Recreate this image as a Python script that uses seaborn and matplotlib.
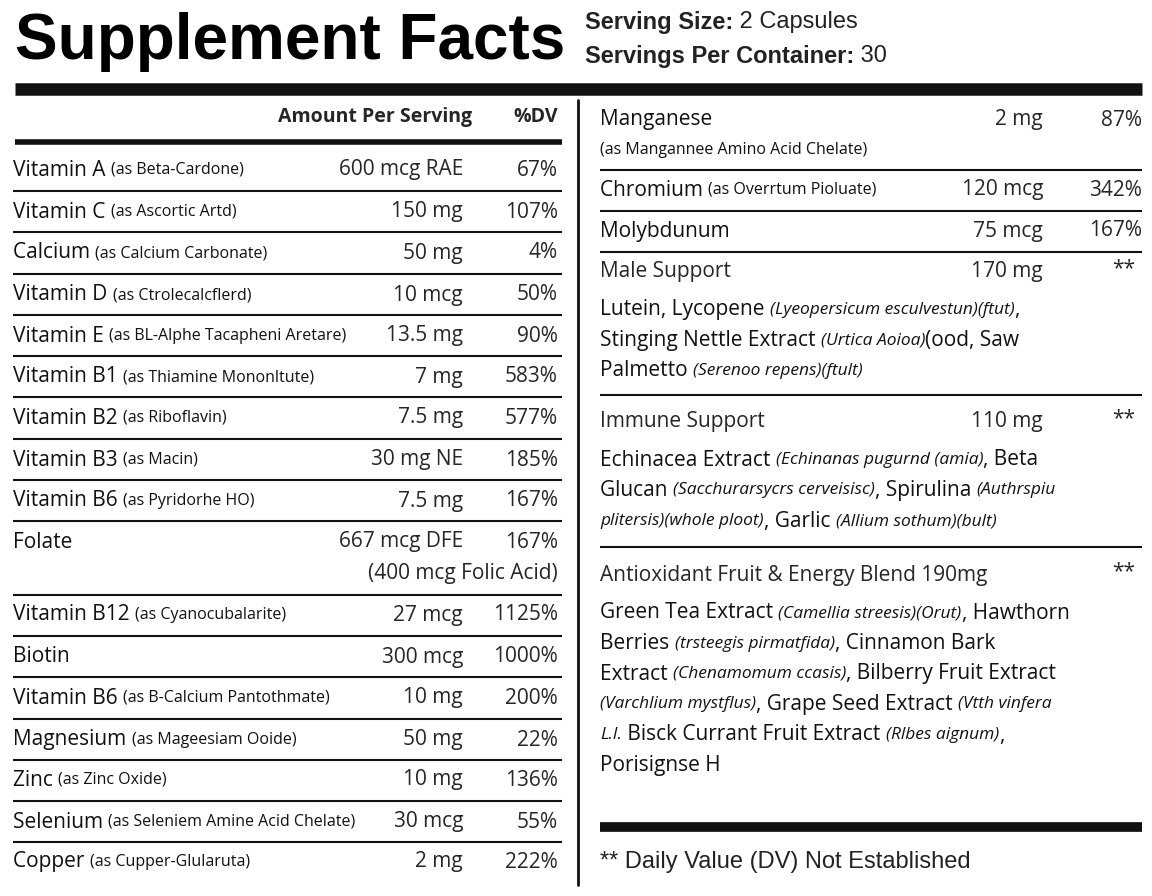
import matplotlib
matplotlib.use("Agg")
import matplotlib.pyplot as plt
import seaborn as sns

sns.set_theme(style="white")

title = "Supplement Facts"
serving_size = "2 Capsules"
servings_per = "30"

left_names = ["Vitamin A", "Vitamin C", "Calcium", "Vitamin D", "Vitamin E", "Vitamin B1", "Vitamin B2",
              "Vitamin B3", "Vitamin B6", "Folate", "Vitamin B12", "Biotin", "Vitamin B6", "Magnesium",
              "Zinc", "Selenium", "Copper"]
left_sources = ["(as Beta-Cardone)", "(as Ascortic Artd)", "(as Calcium Carbonate)", "(as Ctrolecalcflerd)",
                "(as BL-Alphe Tacapheni Aretare)", "(as Thiamine Mononltute)", "(as Riboflavin)", "(as Macin)",
                "(as Pyridorhe HO)", "", "(as Cyanocubalarite)", "", "(as B-Calcium Pantothmate)",
                "(as Mageesiam Ooide)", "(as Zinc Oxide)", "(as Seleniem Amine Acid Chelate)", "(as Cupper-Glularuta)"]
left_amounts = ["600 mcg RAE", "150 mg", "50 mg", "10 mcg", "13.5 mg", "7 mg", "7.5 mg", "30 mg NE", "7.5 mg",
                "667 mcg DFE", "27 mcg", "300 mcg", "10 mg", "50 mg", "10 mg", "30 mcg", "2 mg"]
left_dv = ["67%", "107%", "4%", "50%", "90%", "583%", "577%", "185%", "167%", "167%", "1125%", "1000%",
           "200%", "22%", "136%", "55%", "222%"]
folate_note = "(400 mcg Folic Acid)"

right_names = ["Manganese", "Chromium", "Molybdunum"]
right_sources = ["(as Mangannee Amino Acid Chelate)", "(as Overrtum Pioluate)", ""]
right_amounts = ["2 mg", "120 mcg", "75 mcg"]
right_dv = ["87%", "342%", "167%"]

blend_names = ["Male Support", "Immune Support", "Antioxidant Fruit & Energy Blend 190mg"]
blend_amounts = ["170 mg", "110 mg", ""]
blend_lines = [
    [[("Lutein, Lycopene ", "n"), ("(Lyeopersicum esculvestun)(ftut)", "i"), (",", "n")],
     [("Stinging Nettle Extract ", "n"), ("(Urtica Aoioa)", "i"), ("(ood, Saw", "n")],
     [("Palmetto ", "n"), ("(Serenoo repens)(ftult)", "i")]],
    [[("Echinacea Extract ", "n"), ("(Echinanas pugurnd (amia)", "i"), (", Beta", "n")],
     [("Glucan ", "n"), ("(Sacchurarsycrs cerveisisc)", "i"), (", Spirulina ", "n"), ("(Authrspiu", "i")],
     [("plitersis)(whole ploot)", "i"), (", Garlic ", "n"), ("(Allium sothum)(bult)", "i")]],
    [[("Green Tea Extract ", "n"), ("(Camellia streesis)(Orut)", "i"), (", Hawthorn", "n")],
     [("Berries ", "n"), ("(trsteegis pirmatfida)", "i"), (", Cinnamon Bark", "n")],
     [("Extract ", "n"), ("(Chenamomum ccasis)", "i"), (", Bilberry Fruit Extract", "n")],
     [("(Varchlium mystflus)", "i"), (", Grape Seed Extract ", "n"), ("(Vtth vinfera", "i")],
     [("L.I.", "i"), (" Bisck Currant Fruit Extract ", "n"), ("(Rlbes aignum)", "i"), (",", "n")],
     [("Porisignse H", "n")]],
]
footnote = "** Daily Value (DV) Not Established"

fig = plt.figure(figsize=(11.52, 8.96), dpi=100)
ax = fig.add_axes([0, 0, 1, 1])
ax.set_xlim(0, 1152); ax.set_ylim(896, 0); ax.axis("off")
r = fig.canvas.get_renderer()

BODY = ["Open Sans", "DejaVu Sans"]
COND = ["Open Sans", "DejaVu Sans"]
HEAD = ["Liberation Sans", "DejaVu Sans"]
fs = 15

def styles(k):
    if k == "n":
        return dict(family=BODY, fontsize=fs, weight="medium")
    if k == "i":
        return dict(family=COND, fontsize=12.5, style="italic")
    return dict(family=COND, fontsize=11.5)

def runs(x, y, parts):
    for txt, k in parts:
        t = ax.text(x, y, txt, va="center", ha="left", color="#111", **styles(k))
        x += t.get_window_extent(r).width

def hline(y, x0, x1, lw):
    ax.plot([x0, x1], [y, y], color="#111", lw=lw, solid_capstyle="butt")

ax.text(15, 42, title, family=HEAD, weight="heavy", fontsize=46, va="center", color="#000")
for y, lab, val in [(22, "Serving Size:", serving_size), (56, "Servings Per Container:", servings_per)]:
    t = ax.text(585, y, lab, family=HEAD, weight="bold", fontsize=17, va="center", color="#222")
    w = t.get_window_extent(r).width
    ax.text(585 + w, y, " " + val, family=HEAD, fontsize=17, va="center", color="#222")

hline(89, 15, 1142, 9)
ax.plot([578, 578], [100, 885], color="#111", lw=2)
ax.text(472, 117, "Amount Per Serving", family=BODY, weight="bold", fontsize=14, ha="right", va="center")
ax.text(558, 117, "%DV", family=BODY, weight="bold", fontsize=14, ha="right", va="center")
hline(142, 15, 562, 4)

ys = [170, 212, 253, 295, 336, 377, 418, 460, 501, 542, 615, 657, 698, 740, 780, 822, 862]
for i, (n, s, a, d) in enumerate(zip(left_names, left_sources, left_amounts, left_dv)):
    y = ys[i]
    runs(13, y, [(n + " ", "n"), (s, "c")])
    ax.text(463, y, a, family=BODY, fontsize=fs, ha="right", va="center")
    ax.text(558, y, d, family=BODY, fontsize=fs, ha="right", va="center")
    if i == 9:
        ax.text(558, 574, folate_note, family=BODY, fontsize=fs, ha="right", va="center")
        sep = 595
    elif i < len(ys) - 1:
        sep = (ys[i] + ys[i + 1]) / 2
    else:
        sep = None
    if sep:
        hline(sep, 13, 562, 1.5)

rys = [120, 190, 231]
for i, (n, s, a, d) in enumerate(zip(right_names, right_sources, right_amounts, right_dv)):
    y = rys[i]
    if i == 0:
        runs(600, y, [(n, "n")])
        runs(600, 150, [(s, "c")])
    else:
        runs(600, y, [(n + " ", "n"), (s, "c")])
    ax.text(1043, y, a, family=BODY, fontsize=fs, ha="right", va="center")
    ax.text(1142, y, d, family=BODY, fontsize=fs, ha="right", va="center")
for y in [170, 211, 252]:
    hline(y, 600, 1142, 1.5)

bys = [272, 422, 575]
for i, (n, a, lines) in enumerate(zip(blend_names, blend_amounts, blend_lines)):
    y = bys[i]
    ax.text(600, y, n, family=BODY, fontsize=fs, weight="medium", va="center")
    if a:
        ax.text(1043, y, a, family=BODY, fontsize=fs, ha="right", va="center")
    ax.text(1135, y - 3, "**", family=BODY, fontsize=fs, ha="right", va="center")
    yy = y + 38
    for ln in lines:
        runs(600, yy, ln)
        yy += 30.5
hline(395, 600, 1142, 1.5)
hline(547, 600, 1142, 1.5)
hline(827, 600, 1142, 7)
ax.text(600, 862, footnote, family=HEAD, fontsize=17, va="center", color="#222")

fig.savefig("out.png", dpi=100)
